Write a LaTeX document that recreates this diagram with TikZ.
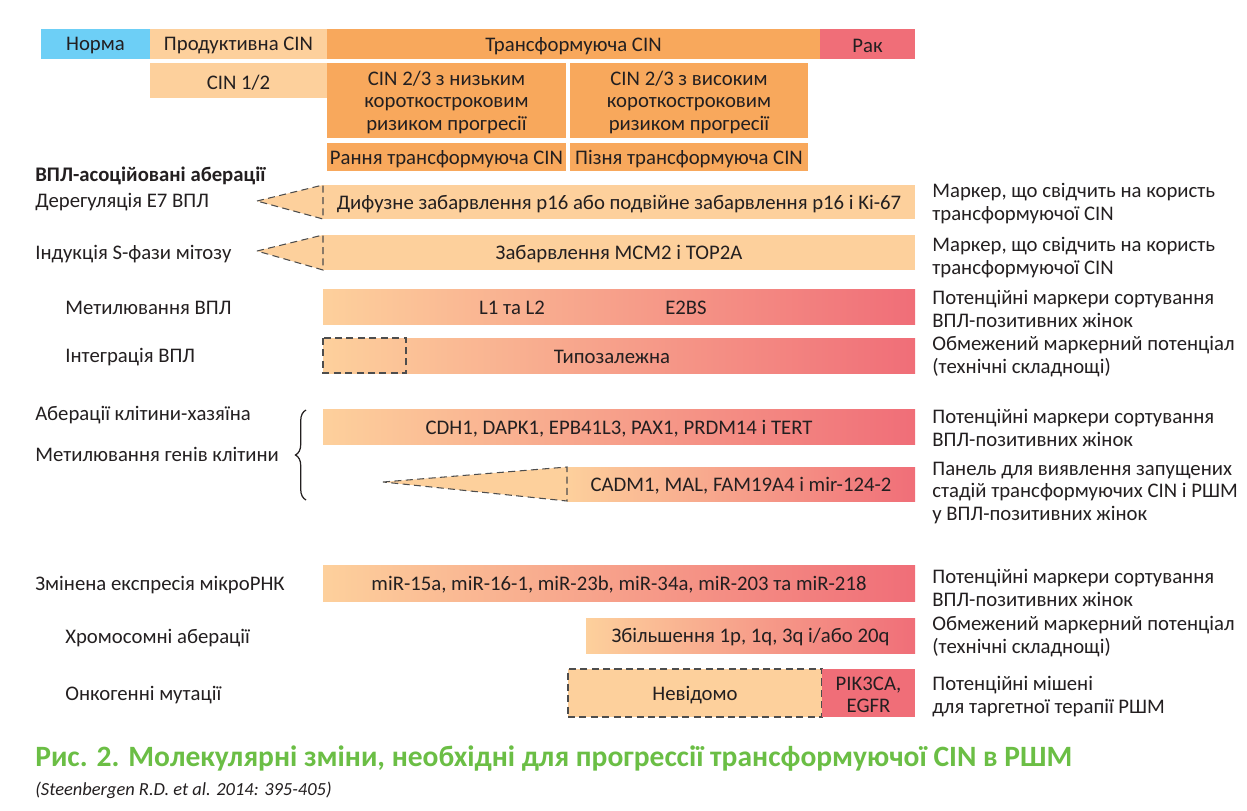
\documentclass[tikz,border=0pt]{standalone}
\usepackage{fontspec}
\setmainfont{Carlito}
\usetikzlibrary{fit,decorations.pathreplacing}
\definecolor{ink}{HTML}{231F20}
\definecolor{normblue}{HTML}{6DCFF6}
\definecolor{peach}{HTML}{FDD09C}
\definecolor{cinorange}{HTML}{F8A85C}
\definecolor{cancerpink}{HTML}{F06E78}
\definecolor{capgreen}{HTML}{6BBE45}
\definecolor{dashgray}{HTML}{4D4D4D}
\tikzset{
  box/.style={inner sep=0pt, outer sep=0pt},
  grad/.style={box, left color=peach, right color=cancerpink},
  dashbox/.style={draw=dashgray, line width=0.6pt, dash pattern=on 4pt off 2.5pt},
  boxtext/.style={inner sep=0pt, align=center, text=ink, yshift=-1pt},
  rowlabel/.style={anchor=west, inner sep=0pt, text=ink, yshift=-1pt},
  note/.style={anchor=west, inner sep=0pt, align=left, text=ink, yshift=-1pt}
}
\begin{document}
\begin{tikzpicture}[x=0.02cm, y=-0.02cm, font=\fontsize{11.8}{12.8}\selectfont]
\useasboundingbox (0,0) rectangle (1247,811);
% stages across the top
\node[box, fill=normblue, fit={(41,29)(150,59)}] (norm) {};
\node[box, fill=peach, fit={(150,29)(327,59)}] (prod) {};
\node[box, fill=cinorange, fit={(327,29)(820,59)}] (trans) {};
\node[box, fill=cancerpink, fit={(820,29)(915,59)}] (cancer) {};
\node[box, fill=peach, fit={(150,63)(327,98)}] (cin12) {};
\node[box, fill=cinorange, fit={(327,63)(566,138)}] (cinlow) {};
\node[box, fill=cinorange, fit={(570,63)(808,138)}] (cinhigh) {};
\node[box, fill=cinorange, fit={(327,143)(566,171)}] (early) {};
\node[box, fill=cinorange, fit={(570,143)(808,171)}] (late) {};
\node[boxtext] at (norm.center) {Норма};
\node[boxtext] at (prod.center) {Продуктивна CIN};
\node[boxtext] at (trans.center) {Трансформуюча CIN};
\node[boxtext] at (cancer.center) {Рак};
\node[boxtext] at (cin12.center) {CIN 1/2};
\node[boxtext] at (cinlow.center) {CIN 2/3 з низьким\\короткостроковим\\ризиком прогресії};
\node[boxtext] at (cinhigh.center) {CIN 2/3 з високим\\короткостроковим\\ризиком прогресії};
\node[boxtext] at (early.center) {Рання трансформуюча CIN};
\node[boxtext] at (late.center) {Пізня трансформуюча CIN};
% HPV-associated rows
\node[rowlabel, font=\fontsize{11.8}{12.8}\selectfont\bfseries] (hpvhead) at (35,174) {ВПЛ-асоційовані аберації};
\node[rowlabel] (dereg) at (35,200) {Дерегуляція E7 ВПЛ};
\node[box, fill=peach, fit={(323,185)(915,219)}] (p16) {};
\coordinate (p16tip) at (257,201);
\draw[dashbox, fill=peach] (p16tip) -- (p16.north west) -- (p16.south west) -- cycle;
\node[boxtext] at (p16.center) {Дифузне забарвлення p16 або подвійне забарвлення p16 і Ki-67};
\node[note] (p16note) at (932,202) {Маркер, що свідчить на користь\\трансформуючої CIN};
\node[rowlabel] (sphase) at (35,252) {Індукція S-фази мітозу};
\node[box, fill=peach, fit={(323,235)(915,270)}] (mcm) {};
\coordinate (mcmtip) at (257,251);
\draw[dashbox, fill=peach] (mcmtip) -- (mcm.north west) -- (mcm.south west) -- cycle;
\node[boxtext] at (mcm.center) {Забарвлення MCM2 і TOP2A};
\node[note] (mcmnote) at (932,256) {Маркер, що свідчить на користь\\трансформуючої CIN};
\node[rowlabel] (hpvmeth) at (65,306) {Метилювання ВПЛ};
\node[grad, fit={(323,289)(915,324)}] (meth) {};
\node[boxtext] at (512,306) {L1 та L2};
\node[boxtext] at (686,306) {E2BS};
\node[note] (methnote) at (932,307) {Потенційні маркери сортування\\ВПЛ-позитивних жінок};
\node[rowlabel] (integ) at (65,355) {Інтеграція ВПЛ};
\node[grad, fit={(323,338)(915,373)}] (integbar) {};
\node[boxtext] at (612,355) {Типозалежна};
\draw[dashbox] (integbar.north west) rectangle (406,373);
\node[note] (integnote) at (932,355) {Обмежений маркерний потенціал\\(технічні складнощі)};
% host cell rows
\node[rowlabel] (host) at (35,413) {Аберації клітини-хазяїна};
\node[rowlabel] (genmeth) at (35,453) {Метилювання генів клітини};
\draw[ink, line width=0.7pt, decorate, decoration={brace, amplitude=6pt}] (306,500) -- (306,410);
\node[grad, fit={(323,409)(915,444)}] (cdh) {};
\node[boxtext] at (cdh.center) {CDH1, DAPK1, EPB41L3, PAX1, PRDM14 і TERT};
\node[note] (cdhnote) at (932,426) {Потенційні маркери сортування\\ВПЛ-позитивних жінок};
\node[grad, fit={(567,467)(915,501)}] (cadm) {};
\coordinate (cadmtip) at (383,482);
\draw[dashbox, fill=peach] (cadmtip) -- (cadm.north west) -- (cadm.south west) -- cycle;
\node[boxtext] at (cadm.center) {CADM1, MAL, FAM19A4 і mir-124-2};
\node[note] (cadmnote) at (932,491) {Панель для виявлення запущених\\стадій трансформуючих CIN і РШМ\\у ВПЛ-позитивних жінок};
\node[rowlabel] (mirna) at (35,583) {Змінена експресія мікроРНК};
\node[grad, fit={(323,565)(915,601)}] (mir) {};
\node[boxtext] at (mir.center) {miR-15a, miR-16-1, miR-23b, miR-34a, miR-203 та miR-218};
\node[note] (mirnote) at (932,586) {Потенційні маркери сортування\\ВПЛ-позитивних жінок};
\node[rowlabel] (chrom) at (65,636) {Хромосомні аберації};
\node[grad, fit={(586,618)(915,653)}] (gain) {};
\node[boxtext] at (gain.center) {Збільшення 1p, 1q, 3q і/або 20q};
\node[note] (gainnote) at (932,635) {Обмежений маркерний потенціал\\(технічні складнощі)};
\node[rowlabel] (onco) at (65,693) {Онкогенні мутації};
\node[box, fill=peach, dashbox, fit={(568,669)(822,717)}] (unknown) {};
\node[box, fill=cancerpink, fit={(822,669)(915,717)}] (pik) {};
\node[boxtext] at (unknown.center) {Невідомо};
\node[boxtext] at (pik.center) {PIK3CA,\\EGFR};
\node[note] (piknote) at (932,695) {Потенційні мішені\\для таргетної терапії РШМ};
% caption
\node[anchor=base west, inner sep=0pt, text=capgreen, font=\fontsize{16.8}{18}\selectfont\bfseries] (caption) at (35,766) {Рис. 2. Молекулярні зміни, необхідні для прогрессії трансформуючої CIN в РШМ};
\node[anchor=base west, inner sep=0pt, text=ink, font=\fontsize{10.5}{12}\selectfont\itshape] (source) at (35,795) {(Steenbergen R.D. et al. 2014: 395-405)};
\end{tikzpicture}
\end{document}
